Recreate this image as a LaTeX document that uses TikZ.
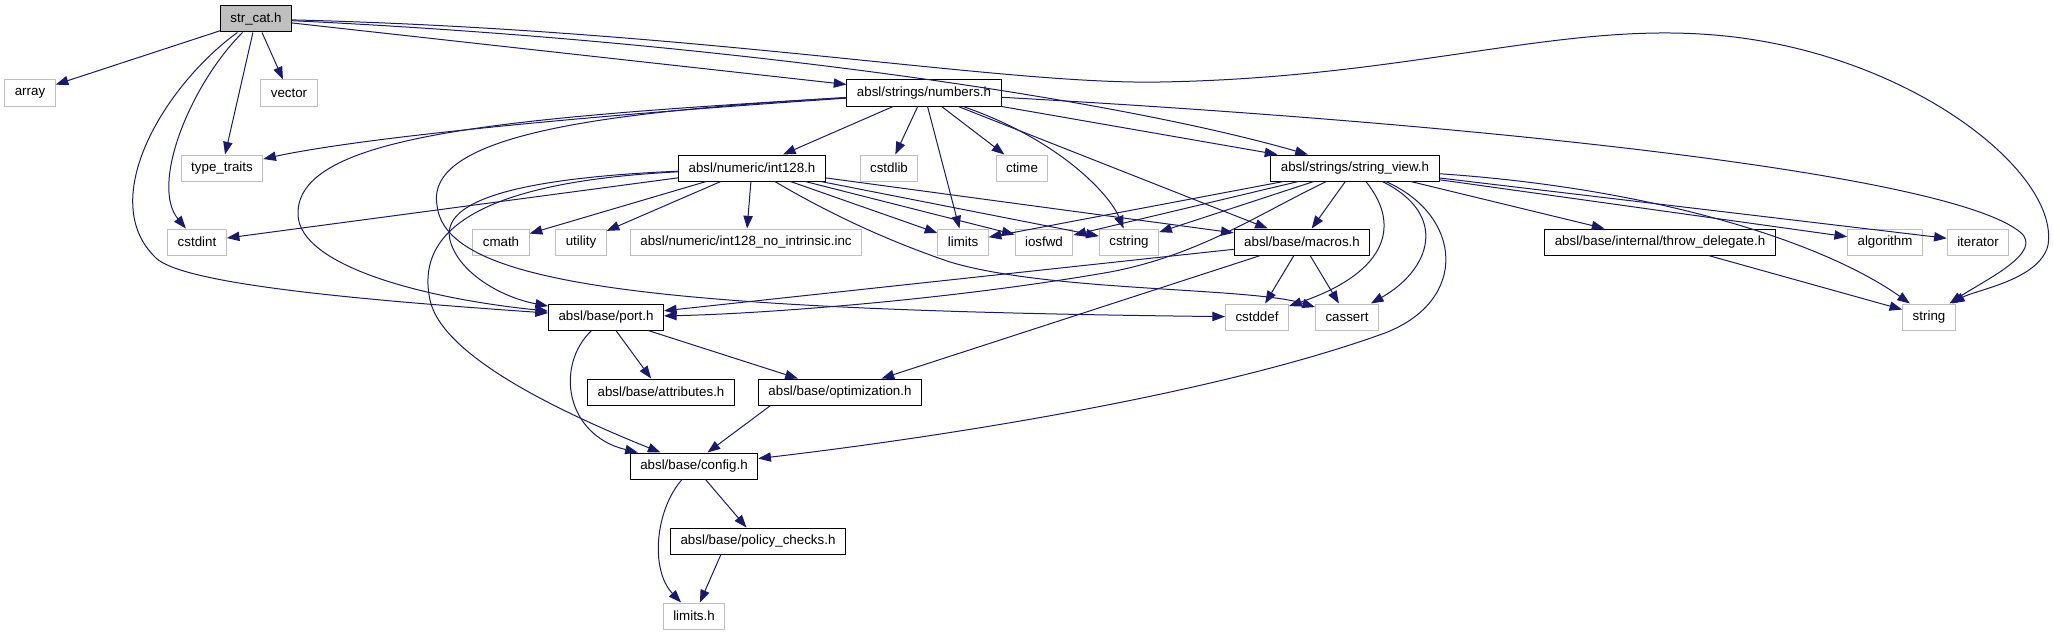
\documentclass[tikz,border=0pt]{standalone}
\usepackage{fontspec}
\setmainfont{Liberation Sans}
\usetikzlibrary{arrows.meta}
\definecolor{edgeblue}{HTML}{191970}
\definecolor{sysgray}{HTML}{BFBFBF}

\begin{document}
\begin{tikzpicture}[x=0.75pt,y=-0.75pt,font=\fontsize{10pt}{12pt}\selectfont,
  hdr/.style={draw=black,line width=0.75pt,fill=white,minimum height=19.5pt,inner xsep=7.5pt,inner ysep=0pt},
  sys/.style={hdr,draw=sysgray},
  dep/.style={draw=edgeblue,line width=0.75pt,-{Triangle[length=9.5pt,width=7pt]}}]
\useasboundingbox (0,0) rectangle (2054,635);
\node[hdr,fill=sysgray] (strcat) at (256,19) {str\_cat.h};
\node[hdr] (numbers) at (924,93) {absl/strings/numbers.h};
\node[hdr] (int128) at (752,168) {absl/numeric/int128.h};
\node[hdr] (stringview) at (1355,168) {absl/strings/string\_view.h};
\node[hdr] (macros) at (1302,242) {absl/base/macros.h};
\node[hdr] (throwdel) at (1660,242) {absl/base/internal/throw\_delegate.h};
\node[hdr] (port) at (606,317) {absl/base/port.h};
\node[hdr] (attributes) at (661,392) {absl/base/attributes.h};
\node[hdr] (optimization) at (840,392) {absl/base/optimization.h};
\node[hdr] (config) at (694,466) {absl/base/config.h};
\node[hdr] (policy) at (758,541) {absl/base/policy\_checks.h};
\foreach \n/\t/\x/\y in {array/array/30/93, vector/vector/289/93, typetraits/type\_traits/222/168,
    cstdlib/cstdlib/889/168, ctime/ctime/1022/168, cstdint/cstdint/197/242, cmath/cmath/501/242,
    utility/utility/581/242, noint/{absl/numeric/int128\_no\_intrinsic.inc}/746/242,
    limits/limits/963/242, iosfwd/iosfwd/1044/242, cstring/cstring/1129/242,
    algorithm/algorithm/1885/242, iterator/iterator/1978/242, cstddef/cstddef/1257/317,
    cassert/cassert/1347/317, string/string/1929/317, limitsh/limits.h/694/616}
  \node[sys] (\n) at (\x,\y) {\t};

\foreach \a/\b in {strcat/array, strcat/vector, strcat/typetraits, strcat/numbers,
    numbers/int128, numbers/cstdlib, numbers/limits, numbers/ctime, numbers/macros, numbers/stringview,
    int128/cstdint, int128/cmath, int128/utility, int128/noint, int128/limits, int128/iosfwd,
    int128/cstring, int128/macros, stringview/limits, stringview/iosfwd, stringview/cstring,
    stringview/macros, stringview/throwdel, stringview/algorithm, stringview/iterator,
    throwdel/string, macros/port, macros/optimization, macros/cstddef, macros/cassert,
    port/attributes, port/optimization, config/policy}
  \draw[dep] (\a) -- (\b);
\draw[dep] (optimization.191) -- (config.45);
\draw[dep] (policy.-160) -- (limitsh);

\draw[dep] (strcat) .. controls (190,85) and (150,185) .. (cstdint);
\draw[dep] (strcat) .. controls (165,85) and (95,200) .. (156,258) .. controls (181,282) and (330,298) .. (port);
\draw[dep] (strcat) .. controls (700,40) and (1100,95) .. (stringview);
\draw[dep] (strcat) .. controls (700,30) and (1000,85) .. (1160,82) .. controls (1400,78) and (1550,25) .. (1700,34)
  .. controls (1900,45) and (2060,170) .. (2048,245) .. controls (2040,280) and (1975,290) .. (string);
\draw[dep] (numbers) .. controls (1060,140) and (1110,195) .. (cstring);
\draw[dep] (numbers) .. controls (550,118) and (350,140) .. (typetraits);
\draw[dep] (numbers) .. controls (500,118) and (295,135) .. (298,215) .. controls (300,265) and (420,298) .. (port);
\draw[dep] (numbers) .. controls (600,112) and (425,135) .. (437,205) .. controls (445,285) and (650,310) .. (cstddef);
\draw[dep] (numbers) .. controls (1500,125) and (1950,175) .. (2020,232) .. controls (2045,252) and (1985,280) .. (string);
\draw[dep] (int128) .. controls (520,178) and (440,200) .. (450,240) .. controls (458,272) and (500,297) .. (port);
\draw[dep] (int128) .. controls (480,182) and (415,230) .. (430,300) .. controls (442,356) and (560,412) .. (config);
\draw[dep] (int128) .. controls (840,220) and (900,245) .. (950,262) .. controls (1050,292) and (1250,287) .. (cassert);
\draw[dep] (stringview) .. controls (1262,212) and (1200,255) .. (1110,272) .. controls (950,300) and (760,314) .. (port);
\draw[dep] (stringview) .. controls (1405,230) and (1380,275) .. (cstddef);
\draw[dep] (stringview) .. controls (1450,215) and (1430,270) .. (cassert);
\draw[dep] (stringview) .. controls (1462,215) and (1470,300) .. (1385,333) .. controls (1200,400) and (900,442) .. (config);
\draw[dep] (stringview) .. controls (1650,188) and (1820,240) .. (string);
\draw[dep] (port) .. controls (555,365) and (565,435) .. (config);
\draw[dep] (config) .. controls (655,510) and (650,570) .. (limitsh);
\end{tikzpicture}
\end{document}
